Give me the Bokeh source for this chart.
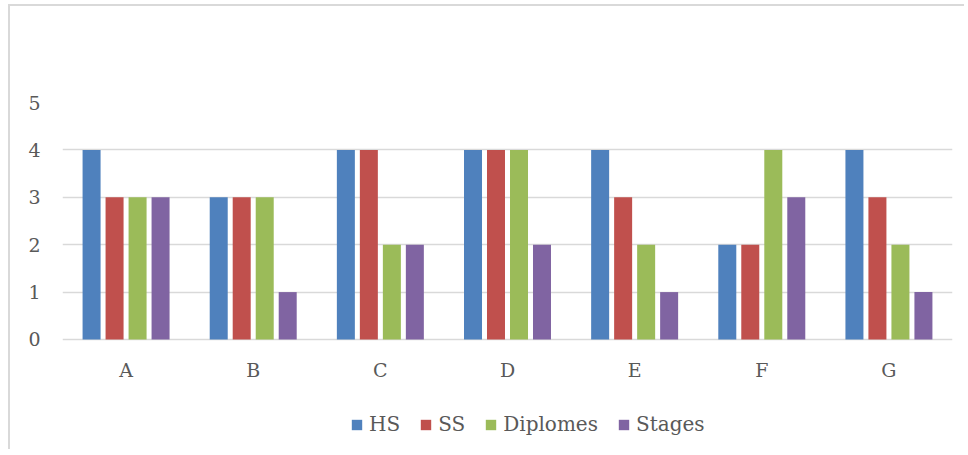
from bokeh.plotting import figure
from bokeh.models import FactorRange, Range1d, FixedTicker, Legend, LegendItem, ColumnDataSource
from bokeh.transform import dodge
from bokeh.embed import file_html
from bokeh.resources import INLINE

categories = ["A", "B", "C", "D", "E", "F", "G"]
series = ["HS", "SS", "Diplomes", "Stages"]
hs = [4, 3, 4, 4, 4, 2, 4]
ss = [3, 3, 4, 4, 3, 2, 3]
diplomes = [3, 3, 2, 4, 2, 4, 2]
stages = [3, 1, 2, 2, 1, 3, 1]
y_ticks = [0, 1, 2, 3, 4, 5]

colors = ["#4F81BD", "#C0504D", "#9BBB59", "#8064A2"]
offsets = [-0.2713, -0.0905, 0.0905, 0.2713]
bar_w = 0.1416

src = ColumnDataSource(dict(cat=categories, HS=hs, SS=ss, Diplomes=diplomes, Stages=stages))

FONT = "DejaVu Serif"
TXT = "#595959"

p = figure(x_range=FactorRange(*categories), y_range=Range1d(-2.3207, 5),
           x_axis_location="above",
           width=956, height=445, output_backend="svg", toolbar_location=None,
           min_border_left=52, min_border_right=14, min_border_top=96, min_border_bottom=2)
p.margin = (4, 0, 0, 8)
p.styles = {"border-top": "2px solid #d9d9d9", "border-left": "2px solid #d9d9d9"}
p.outline_line_color = None
p.background_fill_color = "white"
p.border_fill_color = "white"

renderers = []
for name, col, off in zip(series, colors, offsets):
    r = p.vbar(x=dodge("cat", off, range=p.x_range), top=name, width=bar_w,
               source=src, fill_color=col, line_color=None)
    renderers.append((name, r))

p.xgrid.grid_line_color = None
p.ygrid.grid_line_color = "#d9d9d9"
p.ygrid.grid_line_width = 1.5
p.yaxis.ticker = FixedTicker(ticks=y_ticks)

for ax in (p.xaxis[0], p.yaxis[0]):
    ax.axis_line_color = None
    ax.major_tick_line_color = None
    ax.minor_tick_line_color = None
    ax.major_label_text_font = FONT
    ax.major_label_text_font_size = "19px"
    ax.major_label_text_color = TXT
p.yaxis.major_label_standoff = 16
p.xaxis.fixed_location = 0
p.xaxis.major_label_standoff = -48

legend = Legend(items=[LegendItem(label=n, renderers=[r]) for n, r in renderers],
                orientation="horizontal", location=(288, 13),
                glyph_width=13, glyph_height=13, label_standoff=6, spacing=19,
                padding=0, margin=0, border_line_color=None,
                background_fill_alpha=0,
                label_text_font=FONT, label_text_font_size="20px", label_text_color=TXT)
p.add_layout(legend)

open("out.html", "w").write(file_html(p, INLINE))
